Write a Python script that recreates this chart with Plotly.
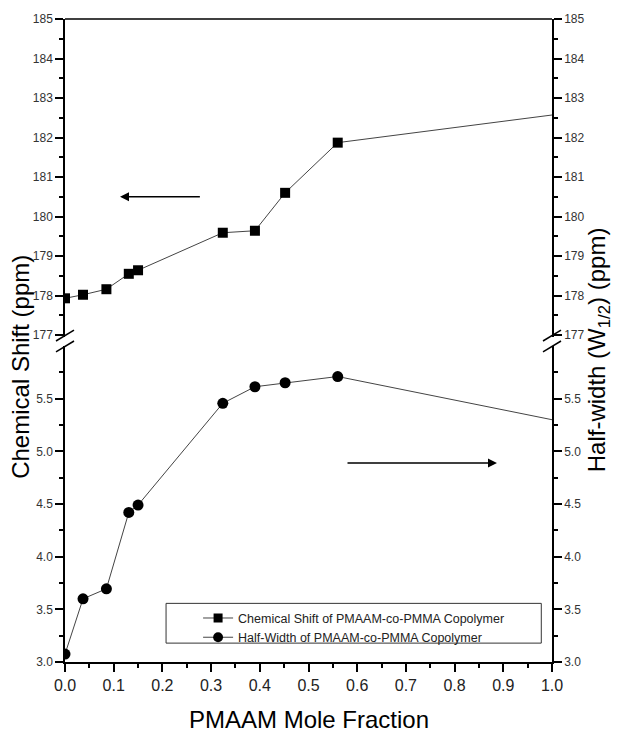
import plotly.graph_objects as go

# ---- data ----
x_cs = [0.0, 0.037, 0.085, 0.131, 0.150, 0.324, 0.390, 0.452, 0.560, 1.0]
cs = [177.93, 178.02, 178.16, 178.55, 178.64, 179.59, 179.64, 180.60, 181.87, 182.57]
x_hw = [0.0, 0.037, 0.085, 0.131, 0.150, 0.324, 0.390, 0.452, 0.560, 1.0]
hw = [3.075, 3.60, 3.695, 4.42, 4.49, 5.456, 5.613, 5.651, 5.71, 5.30]
show_marker = [True] * 9 + [False]  # last point only continues the line

x_ticks = [i / 10 for i in range(11)]
x_ticktext = ["%.1f" % v for v in x_ticks]
top_ticks = list(range(177, 186))
bot_ticks = [3.0, 3.5, 4.0, 4.5, 5.0, 5.5]
bot_ticktext = ["%.1f" % v for v in bot_ticks]

FONT = "Arial, Liberation Sans, sans-serif"
LINE_C = "#444444"

fig = go.Figure()
fig.add_trace(go.Scatter(
    x=x_cs, y=cs, xaxis="x", yaxis="y", mode="lines+markers",
    name="Chemical Shift of PMAAM-co-PMMA Copolymer",
    line=dict(color=LINE_C, width=1),
    marker=dict(symbol="square", color="#000000", opacity=1,
                line=dict(width=0, color="#000000"),
                size=[10 if s else 0 for s in show_marker]),
))
fig.add_trace(go.Scatter(
    x=x_hw, y=hw, xaxis="x", yaxis="y2", mode="lines+markers",
    name="Half-Width of PMAAM-co-PMMA Copolymer",
    line=dict(color=LINE_C, width=1),
    marker=dict(symbol="circle", color="#000000", opacity=1,
                line=dict(width=0, color="#000000"),
                size=[11 if s else 0 for s in show_marker]),
))
# empty traces so that the right-hand axes are created
fig.add_trace(go.Scatter(x=[None], y=[None], xaxis="x", yaxis="y3", mode="markers",
                         showlegend=False, hoverinfo="skip"))
fig.add_trace(go.Scatter(x=[None], y=[None], xaxis="x", yaxis="y4", mode="markers",
                         showlegend=False, hoverinfo="skip"))

tickfont_y = dict(family=FONT, size=12, color="#333333")
common_y = dict(showline=True, linecolor="black", linewidth=1.5, ticks="outside",
                ticklen=8, tickwidth=1.5, tickcolor="black", showgrid=False,
                zeroline=False, tickfont=tickfont_y)

top_dom = [(662 - 335) / 647, 1.0]
bot_dom = [0.0, (662 - 344) / 647]
top_range = [176.95, 185]
bot_range = [3.0, 6.0]

fig.update_layout(
    width=619, height=739,
    margin=dict(l=65, r=67, t=15, b=77),
    paper_bgcolor="white", plot_bgcolor="white",
    font=dict(family=FONT, color="black"),
    showlegend=True,
    xaxis=dict(domain=[0, 1], range=[0, 1], anchor="y2", showline=True,
               linecolor="black", linewidth=1.5, ticks="outside", ticklen=8,
               tickwidth=1.5, tickcolor="black", tickvals=x_ticks,
               ticktext=x_ticktext, showgrid=False, zeroline=False,
               tickfont=dict(family=FONT, size=16, color="#222222"),
               minor=dict(tickvals=[v + 0.05 for v in x_ticks[:-1]],
                          ticklen=4, tickwidth=1.5, tickcolor="black",
                          ticks="outside")),
    yaxis=dict(domain=top_dom, range=top_range, anchor="x", side="left",
               tickvals=top_ticks,
               minor=dict(tickvals=[v + 0.5 for v in top_ticks[:-1]], ticklen=4,
                          tickwidth=1.5, tickcolor="black", ticks="outside"),
               **common_y),
    yaxis2=dict(domain=bot_dom, range=bot_range, anchor="x", side="left",
                tickvals=bot_ticks, ticktext=bot_ticktext,
                minor=dict(tickvals=[v + 0.25 for v in bot_ticks], ticklen=4,
                           tickwidth=1.5, tickcolor="black", ticks="outside"),
                **common_y),
    yaxis3=dict(overlaying="y", range=top_range, anchor="x", side="right",
                tickvals=top_ticks,
                minor=dict(tickvals=[v + 0.5 for v in top_ticks[:-1]], ticklen=4,
                           tickwidth=1.5, tickcolor="black", ticks="outside"),
                **common_y),
    yaxis4=dict(overlaying="y2", range=bot_range, anchor="x", side="right",
                tickvals=bot_ticks, ticktext=bot_ticktext,
                minor=dict(tickvals=[v + 0.25 for v in bot_ticks], ticklen=4,
                           tickwidth=1.5, tickcolor="black", ticks="outside"),
                **common_y),
    legend=dict(x=(198 - 65) / 486.7, xanchor="left", y=(662 - 603) / 647,
                yanchor="top", bgcolor="rgba(0,0,0,0)", borderwidth=0,
                font=dict(family=FONT, size=12.5, color="#222222"),
                tracegroupgap=0, itemwidth=30),
)

def px_x(p):
    return (p - 65) / 486.7

def px_y(p):
    return (662 - p) / 647

shapes = []
# top frame line
shapes.append(dict(type="line", xref="paper", yref="paper", x0=0, x1=1, y0=1, y1=1,
                   line=dict(color="black", width=1.5)))
# legend box
shapes.append(dict(type="rect", xref="paper", yref="paper",
                   x0=px_x(166), x1=px_x(541), y0=px_y(643), y1=px_y(603),
                   line=dict(color="#333333", width=1), fillcolor="rgba(0,0,0,0)"))
# axis-break slashes
for cx in (65, 551.7):
    for (ya, yb) in ((339, 328), (350, 339)):
        shapes.append(dict(type="line", xref="paper", yref="paper",
                           x0=px_x(cx - 9), x1=px_x(cx + 9),
                           y0=px_y(ya), y1=px_y(yb),
                           line=dict(color="black", width=1.5)))
fig.update_layout(shapes=shapes)

annotations = [
    dict(text="Chemical Shift (ppm)", xref="paper", yref="paper",
         x=px_x(21), y=px_y(365), xanchor="center", yanchor="middle",
         textangle=-90, showarrow=False,
         font=dict(family=FONT, size=24, color="black")),
    dict(text="Half-width (W<sub>1/2</sub>) (ppm)", xref="paper", yref="paper",
         x=px_x(599), y=px_y(348), xanchor="center", yanchor="middle",
         textangle=-90, showarrow=False,
         font=dict(family=FONT, size=24, color="black")),
    dict(text="PMAAM Mole Fraction", xref="paper", yref="paper",
         x=px_x(309), y=px_y(720), xanchor="center", yanchor="middle",
         showarrow=False,
         font=dict(family=FONT, size=24, color="black")),
    # arrows pointing to the relevant axis
    dict(x=0.113, y=180.5, xref="x", yref="y", ax=0.28, ay=180.5,
         axref="x", ayref="y", showarrow=True, arrowhead=2, arrowsize=1.2,
         arrowwidth=1.5, arrowcolor="black", text=""),
    dict(x=0.887, y=4.89, xref="x", yref="y2", ax=0.577, ay=4.89,
         axref="x", ayref="y2", showarrow=True, arrowhead=2, arrowsize=1.2,
         arrowwidth=1.5, arrowcolor="black", text=""),
]
fig.update_layout(annotations=annotations)

fig.write_html("out.html")
